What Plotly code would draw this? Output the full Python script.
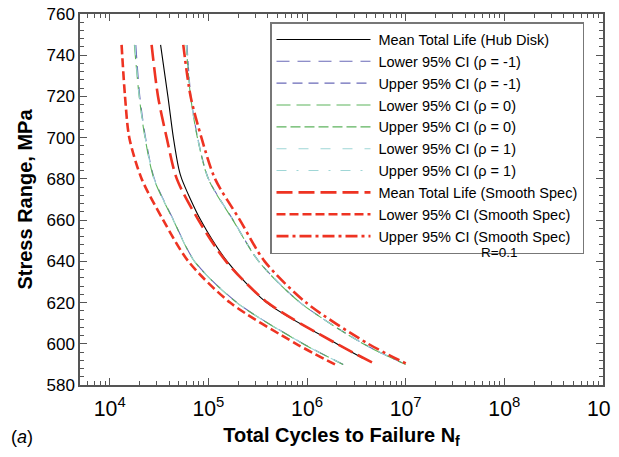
import plotly.graph_objects as go

# ---- data ----
stress = [745, 720, 700, 680, 660, 640, 620, 600, 590]
stress_mean_hub = [745, 720, 700, 685, 680, 660, 640, 620, 600, 593]

n_mean_hub = [32800, 38900, 44200, 50100, 53700, 83600, 155000, 389000, 2.0e6, 3.68e6]
n_lower_m1 = [18400, 20200, 23100, 28400, 44400, 72700, 195000, 915000, 2.33e6]
n_upper_m1 = [60800, 66500, 77900, 100500, 178500, 325000, 853000, 3.73e6, 1.0e7]
n_lower_0 = [17800, 19900, 22800, 28100, 44100, 72300, 194000, 910000, 2.32e6]
n_upper_0 = [59600, 66000, 77400, 99800, 177500, 323000, 850000, 3.71e6, 1.0e7]
n_lower_p1 = [18000, 19950, 22900, 28200, 44200, 72400, 194000, 912000, 2.33e6]
n_upper_p1 = [60100, 66100, 77600, 100000, 178000, 324000, 851000, 3.72e6, 1.02e7]
n_mean_smooth = [26600, 30900, 37800, 47900, 79400, 151000, 398000, 2.0e6, 4.99e6]
n_lower_smooth = [13200, 14300, 15800, 21100, 34900, 62700, 166000, 776000, 1.92e6]
n_upper_smooth = [55700, 66100, 85100, 117000, 209000, 372000, 977000, 4.17e6, 1.05e7]

names = [
    "Mean Total Life (Hub Disk)",
    "Lower 95% CI (\u03c1 = -1)",
    "Upper 95% CI (\u03c1 = -1)",
    "Lower 95% CI (\u03c1 = 0)",
    "Upper 95% CI (\u03c1 = 0)",
    "Lower 95% CI (\u03c1 = 1)",
    "Upper 95% CI (\u03c1 = 1)",
    "Mean Total Life (Smooth Spec)",
    "Lower 95% CI (Smooth Spec)",
    "Upper 95% CI (Smooth Spec)",
]

BLUE = "#6a6ab8"
GREEN = "#5db35d"
CYAN = "#9fd6d6"
RED = "#ee3322"

series = [
    (n_mean_hub, stress_mean_hub, "black", 1.1, "solid"),
    (n_lower_m1, stress, BLUE, 1.1, "13px,8px"),
    (n_upper_m1, stress, BLUE, 1.1, "10px,6px"),
    (n_lower_0, stress, GREEN, 1.1, "14px,6px"),
    (n_upper_0, stress, GREEN, 1.1, "10px,4px"),
    (n_lower_p1, stress, CYAN, 1.1, "10px,12px"),
    (n_upper_p1, stress, CYAN, 1.1, "10px,10px,2px,10px"),
    (n_mean_smooth, stress, RED, 2.6, "16px,6px"),
    (n_lower_smooth, stress, RED, 2.6, "9px,4px"),
    (n_upper_smooth, stress, RED, 2.6, "12px,4px,3px,4px"),
]

fig = go.Figure()
for (xs, ys, col, w, dash), nm in zip(series, names):
    fig.add_trace(go.Scatter(
        x=xs, y=ys, mode="lines", name="\u2009" + nm,
        line=dict(color=col, width=w, dash=dash, shape="spline", smoothing=0.8),
    ))

FONT = "Arial, Liberation Sans, sans-serif"
AXC = "#555555"

# page body adds an 8px offset; target plot box on screen: x 80..603, y 14..385
OFF = 8
SL, SR, ST, SB = 80, 603, 14, 385
W, H = 611, 441
L, T = SL - OFF, ST - OFF
R, B = W - (SR - OFF), H - (SB - OFF)
PW, PH = SR - SL, SB - ST

fig.update_layout(
    width=W, height=H,
    margin=dict(l=L, r=R, t=T, b=B, autoexpand=False),
    paper_bgcolor="white", plot_bgcolor="white",
    font=dict(family=FONT, color="black", size=17),
    showlegend=True,
    legend=dict(
        x=(270 - SL) / PW, y=(SB - 22) / PH, xanchor="left", yanchor="top",
        bgcolor="white", bordercolor="#777777", borderwidth=1.5,
        font=dict(family=FONT, size=14.5, color="black"),
        itemwidth=94, tracegroupgap=0,
    ),
    xaxis=dict(
        type="log", range=[3.699, 9.0002], tickmode="linear", tick0=0, dtick=1,
        exponentformat="power", showgrid=False, zeroline=False, automargin=False,
        showline=True, linecolor=AXC, linewidth=1.5, mirror="ticks",
        ticks="inside", ticklen=7, tickcolor=AXC, tickwidth=1,
        minor=dict(ticks="inside", ticklen=4, dtick="D1", tickcolor=AXC, showgrid=False),
        tickfont=dict(size=17), ticklabelstandoff=5, ticklabeloverflow="allow",
        title=dict(text="<b>Total Cycles to Failure N<sub>f</sub></b>", font=dict(size=20), standoff=10),
    ),
    yaxis=dict(
        range=[580, 760], tickmode="linear", tick0=0, dtick=20,
        showgrid=False, zeroline=False, automargin=False,
        showline=True, linecolor=AXC, linewidth=1.5, mirror="ticks",
        ticks="inside", ticklen=7, tickcolor=AXC, tickwidth=1,
        minor=dict(ticks="inside", ticklen=4, dtick=4, tickcolor=AXC, showgrid=False),
        tickfont=dict(size=17), ticklabeloverflow="allow",
        title=dict(text="<b>Stress Range, MPa</b>", font=dict(size=20), standoff=8),
    ),
    annotations=[
        dict(text="R=0.1", x=7.95, y=644.5, xref="x", yref="y", showarrow=False,
             font=dict(size=13.5)),
        dict(text="(<i>a</i>)", x=(22 - SL) / PW, y=(SB - 437) / PH,
             xref="paper", yref="paper", xanchor="center", yanchor="middle",
             showarrow=False, font=dict(size=18)),
    ],
)

fig.write_html("out.html")
